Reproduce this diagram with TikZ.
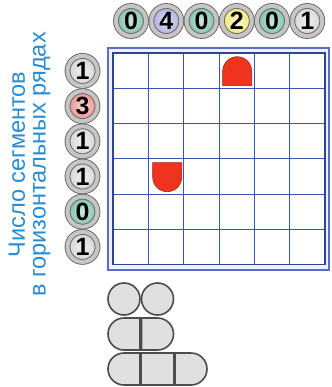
\documentclass[tikz,border=0pt]{standalone}
\usepackage{fontspec}
\setmainfont{Liberation Sans}
\definecolor{capblue}{RGB}{40,140,210}
\definecolor{gridblue}{RGB}{60,85,180}
\definecolor{frameblue}{RGB}{85,110,200}
\definecolor{cteal}{RGB}{120,190,165}
\definecolor{clav}{RGB}{170,170,225}
\definecolor{cyel}{RGB}{240,232,110}
\definecolor{cgray}{RGB}{212,212,212}
\definecolor{cpink}{RGB}{235,140,140}
\definecolor{piecered}{RGB}{238,52,30}

\begin{document}
\begin{tikzpicture}[x=1pt, y=-1pt,
    clue/.style={circle, minimum size=30pt, inner sep=0pt, inner color=#1!35, outer color=#1, draw=black!60, double=gray!45, double distance=4pt, line width=0.9pt, font=\bfseries\fontsize{25}{25}\selectfont},
    rowlabel/.style={rotate=90, anchor=base, text=capblue, font=\fontsize{23.5}{23.5}\selectfont},
    piece/.style={fill=piecered, draw=piecered!70!black, line width=0.6pt},
    tile/.style={fill=black!12, draw=black!70, line width=1.6pt}
]
\useasboundingbox (0,0) rectangle (331,387);

\node[rowlabel] (lab1) at (24.8,164.5) {Число сегментов};
\node[rowlabel] (lab2) at (45.5,164.5) {в горизонтальных рядах};

\draw[frameblue, line width=2pt, fill=blue!6] (107.7,47.7) rectangle (329.3,269.5);
\fill[white] (113.3,53.3) rectangle (325,264.5);
\foreach \i in {1,...,5} {
  \draw[gridblue, line width=1.1pt] ({113.3+35.28*\i},53.3) -- ++(0,211.2);
  \draw[gridblue, line width=1.1pt] (113.3,{53.3+35.2*\i}) -- ++(211.7,0);
}
\draw[gridblue!80!black, line width=1.8pt] (113.3,53.3) rectangle (325,264.5);

\node[clue=cteal] (t1) at (131,21) {0};
\node[clue=clav] (t2) at (166.3,21) {4};
\node[clue=cteal] (t3) at (201.5,21) {0};
\node[clue=cyel] (t4) at (236.8,21) {2};
\node[clue=cteal] (t5) at (272,21) {0};
\node[clue=cgray] (t6) at (307.3,21) {1};

\node[clue=cgray] (r1) at (82.5,70.9) {1};
\node[clue=cpink] (r2) at (82.5,106.1) {3};
\node[clue=cgray] (r3) at (82.5,141.3) {1};
\node[clue=cgray] (r4) at (82.5,176.5) {1};
\node[clue=cteal] (r5) at (82.5,211.7) {0};
\node[clue=cgray] (r6) at (82.5,246.9) {1};

\draw[piece] (222.7,85.7) -- (222.7,71.2) arc[start angle=180, end angle=360, radius=14.5] -- (251.7,85.7) -- cycle;
\draw[piece] (152.7,162.7) -- (152.7,177.2) arc[start angle=180, end angle=0, radius=14.5] -- (181.7,162.7) -- cycle;

\draw[tile] (124,299) circle[radius=16];
\draw[tile] (157.5,299) circle[radius=16];
\draw[tile] (140,318) -- (124,318) arc[start angle=270, end angle=90, radius=16] -- (140,350) -- cycle;
\draw[tile] (141.5,318) -- (157.5,318) arc[start angle=270, end angle=450, radius=16] -- (141.5,350) -- cycle;
\draw[tile] (140,353) -- (124,353) arc[start angle=270, end angle=90, radius=16] -- (140,385) -- cycle;
\draw[tile] (141.5,353) rectangle (173.5,385);
\draw[tile] (175,353) -- (191,353) arc[start angle=270, end angle=450, radius=16] -- (175,385) -- cycle;
\end{tikzpicture}
\end{document}
